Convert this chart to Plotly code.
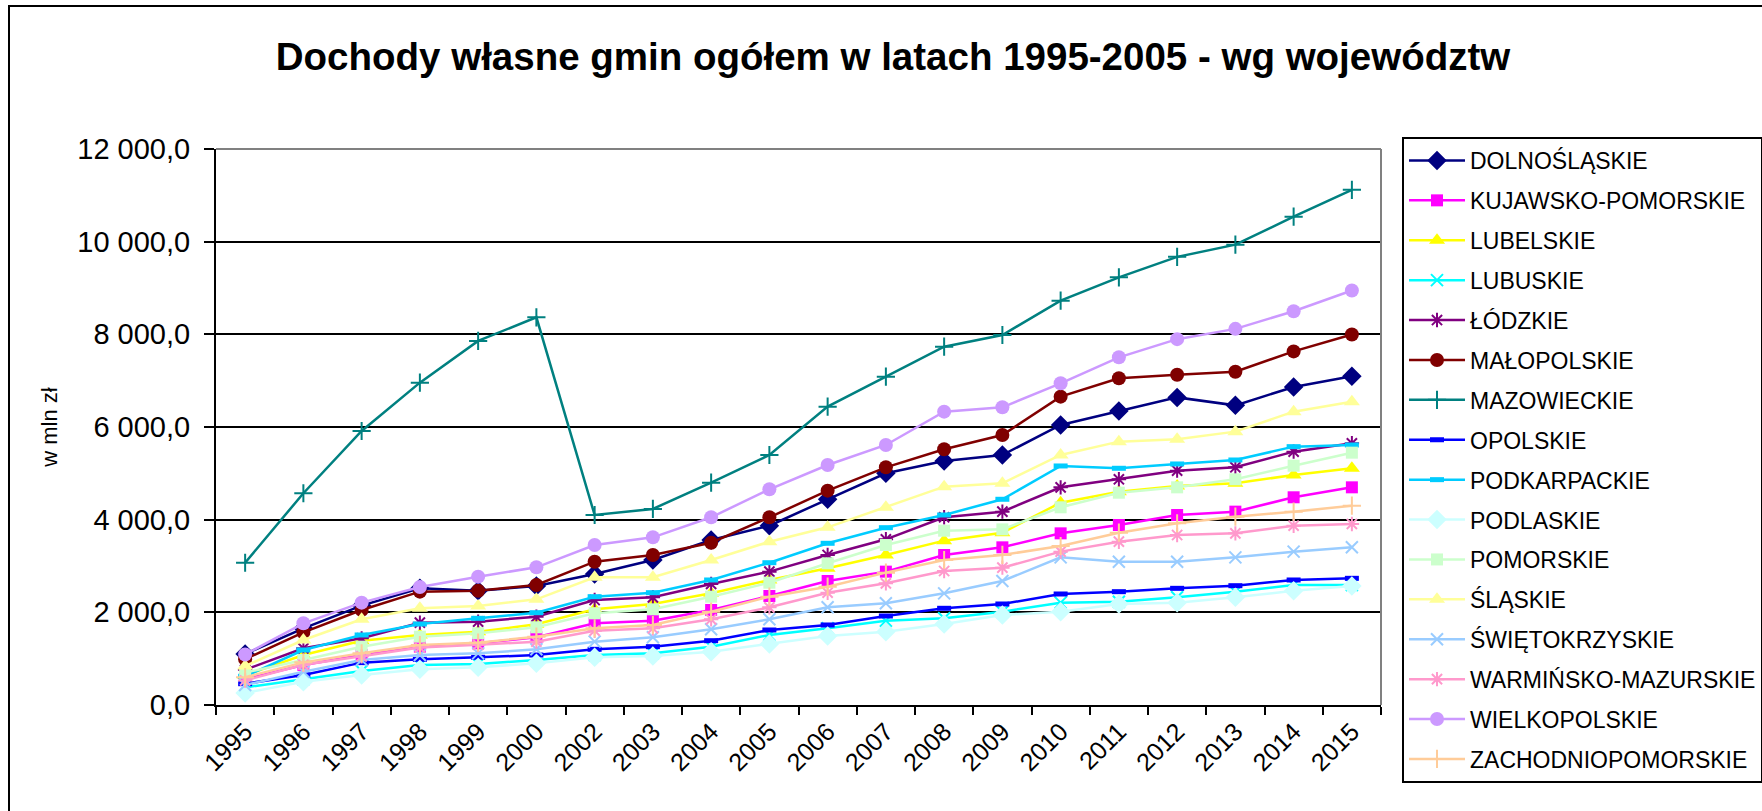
import plotly.graph_objects as go

W, H = 1762, 811
PLOT_L, PLOT_R, PLOT_T, PLOT_B = 216, 1381, 149, 705

years = ["1995", "1996", "1997", "1998", "1999", "2000", "2002", "2003", "2004", "2005",
         "2006", "2007", "2008", "2009", "2010", "2011", "2012", "2013", "2014", "2015"]

dolnoslaskie = [1100, 1655, 2144, 2518, 2467, 2568, 2827, 3130, 3561, 3870,
                4440, 5001, 5266, 5396, 6043, 6346, 6639, 6467, 6864, 7095]
kujawsko_pomorskie = [560, 863, 1079, 1259, 1331, 1461, 1763, 1820, 2050, 2353,
                      2676, 2878, 3238, 3403, 3705, 3885, 4101, 4173, 4483, 4698]
lubelskie = [640, 1079, 1388, 1511, 1583, 1741, 2065, 2180, 2410, 2698,
             2950, 3238, 3547, 3719, 4367, 4604, 4727, 4785, 4964, 5109]
lubuskie = [380, 554, 734, 863, 885, 971, 1079, 1115, 1259, 1511,
            1655, 1820, 1871, 2014, 2209, 2230, 2324, 2446, 2590, 2590]
lodzkie = [760, 1223, 1439, 1777, 1799, 1907, 2266, 2324, 2612, 2878,
           3238, 3576, 4051, 4173, 4698, 4871, 5058, 5130, 5468, 5648]
malopolskie = [990, 1569, 2050, 2446, 2467, 2590, 3093, 3238, 3503, 4051,
               4626, 5130, 5519, 5828, 6655, 7051, 7127, 7194, 7632, 7995]
mazowieckie = [3070, 4570, 5914, 6957, 7857, 8368, 4101, 4231, 4799, 5396,
               6439, 7087, 7734, 7986, 8727, 9231, 9672, 9935, 10540, 11118]
opolskie = [460, 647, 914, 986, 1029, 1079, 1202, 1259, 1388, 1619,
            1727, 1921, 2087, 2180, 2396, 2446, 2518, 2575, 2698, 2734]
podkarpackie = [620, 1187, 1511, 1748, 1871, 1992, 2338, 2424, 2698, 3071,
                3490, 3827, 4101, 4440, 5159, 5109, 5202, 5288, 5576, 5612]
podlaskie = [260, 503, 647, 770, 813, 900, 1029, 1058, 1151, 1317,
             1489, 1583, 1748, 1943, 2014, 2180, 2209, 2324, 2467, 2568]
pomorskie = [700, 971, 1259, 1475, 1547, 1677, 1979, 2065, 2338, 2640,
             3058, 3453, 3762, 3791, 4267, 4582, 4698, 4871, 5165, 5446]
slaskie = [840, 1403, 1850, 2087, 2137, 2281, 2756, 2756, 3130, 3525,
           3835, 4267, 4712, 4785, 5396, 5684, 5734, 5900, 6331, 6547]
swietokrzyskie = [430, 719, 971, 1079, 1115, 1202, 1367, 1461, 1634, 1849,
                  2108, 2195, 2410, 2676, 3187, 3093, 3093, 3187, 3310, 3403]
warminsko_mazurskie = [530, 870, 1050, 1240, 1300, 1367, 1604, 1655, 1849, 2108,
                       2424, 2626, 2892, 2964, 3310, 3525, 3669, 3705, 3870, 3907]
wielkopolskie = [1090, 1763, 2209, 2547, 2770, 2972, 3453, 3619, 4051, 4655,
                 5180, 5612, 6331, 6425, 6943, 7504, 7896, 8118, 8498, 8945]
zachodniopomorskie = [600, 920, 1115, 1295, 1345, 1475, 1655, 1727, 2014, 2338,
                      2554, 2857, 3130, 3238, 3432, 3719, 3921, 4065, 4173, 4302]

y_ticks = [0, 2000, 4000, 6000, 8000, 10000, 12000]
y_labels = ["0,0", "2 000,0", "4 000,0", "6 000,0", "8 000,0", "10 000,0", "12 000,0"]

# name, values, colour, symbol, size, open-symbol line width
series = [
    ("DOLNOŚLĄSKIE", dolnoslaskie, "#000080", "diamond", 15, 0),
    ("KUJAWSKO-POMORSKIE", kujawsko_pomorskie, "#FF00FF", "square", 12, 0),
    ("LUBELSKIE", lubelskie, "#FFFF00", "triangle-up", 14, 0),
    ("LUBUSKIE", lubuskie, "#00FFFF", "x-thin-open", 12, 2),
    ("ŁÓDZKIE", lodzkie, "#800080", "asterisk-open", 12, 2),
    ("MAŁOPOLSKIE", malopolskie, "#800000", "circle", 14, 0),
    ("MAZOWIECKIE", mazowieckie, "#008080", "cross-thin-open", 13, 2),
    ("OPOLSKIE", opolskie, "#0000FF", "line-ew-open", 10, 5),
    ("PODKARPACKIE", podkarpackie, "#00CCFF", "line-ew-open", 10, 5),
    ("PODLASKIE", podlaskie, "#CCFFFF", "diamond", 15, 0),
    ("POMORSKIE", pomorskie, "#CCFFCC", "square", 12, 0),
    ("ŚLĄSKIE", slaskie, "#FFFF99", "triangle-up", 14, 0),
    ("ŚWIĘTOKRZYSKIE", swietokrzyskie, "#99CCFF", "x-thin-open", 12, 2),
    ("WARMIŃSKO-MAZURSKIE", warminsko_mazurskie, "#FF99CC", "asterisk-open", 12, 2),
    ("WIELKOPOLSKIE", wielkopolskie, "#CC99FF", "circle", 14, 0),
    ("ZACHODNIOPOMORSKIE", zachodniopomorskie, "#FFCC99", "cross-thin-open", 13, 2),
]

FONT = "Liberation Sans, Arial, sans-serif"


def px_x(x):
    return (x - PLOT_L) / (PLOT_R - PLOT_L)


def px_y(y):
    return (PLOT_B - y) / (PLOT_B - PLOT_T)


fig = go.Figure()
for name, vals, color, symbol, size, lw in series:
    marker = dict(symbol=symbol, size=size, color=color)
    if lw:
        marker["line"] = dict(color=color, width=lw)
    else:
        marker["line"] = dict(width=0)
    fig.add_trace(go.Scatter(
        x=years, y=vals, name=name, mode="lines+markers",
        line=dict(color=color, width=2.5), marker=marker,
        legendgroup=name,
    ))

fig.update_layout(
    width=W, height=H,
    margin=dict(l=PLOT_L, r=W - PLOT_R, t=PLOT_T, b=H - PLOT_B, autoexpand=False),
    paper_bgcolor="white", plot_bgcolor="white",
    font=dict(family=FONT, color="black"),
    title=dict(
        text="<b>Dochody własne gmin ogółem w latach 1995-2005 - wg województw</b>",
        font=dict(size=38.5, family=FONT, color="black"),
        x=893 / W, xref="container", xanchor="center",
        y=1 - 57 / H, yref="container", yanchor="middle",
    ),
    showlegend=True,
    legend=dict(
        x=px_x(1402), y=px_y(137), xanchor="left", yanchor="top",
        bgcolor="white", bordercolor="black", borderwidth=2,
        font=dict(size=23, family=FONT, color="black"),
        tracegroupgap=7, itemwidth=56, maxheight=760,
    ),
    xaxis=dict(
        type="category", categoryorder="array", categoryarray=years,
        range=[-0.5, len(years) - 0.5],
        tickson="boundaries", ticks="outside", ticklen=8, tickwidth=2, tickcolor="black",
        showline=True, linecolor="black", linewidth=2,
        showgrid=False, tickangle=-45, automargin=False,
        tickfont=dict(size=25, family=FONT, color="black"),
    ),
    yaxis=dict(
        range=[0, 12000], tickvals=y_ticks, ticktext=y_labels,
        ticks="outside", ticklen=10, tickwidth=2, tickcolor="black",
        ticklabelstandoff=8, automargin=False,
        showline=True, linecolor="black", linewidth=2,
        showgrid=True, gridcolor="black", gridwidth=1.5, zeroline=False,
        tickfont=dict(size=29, family=FONT, color="black"),
        title=dict(text="w mln zł", font=dict(size=22, family=FONT, color="black"), standoff=14),
    ),
    shapes=[
        # plot area frame, top and right edges are grey
        dict(type="line", xref="paper", yref="paper", x0=0, x1=1, y0=1, y1=1,
             line=dict(color="#808080", width=2), layer="above"),
        dict(type="line", xref="paper", yref="paper", x0=1, x1=1, y0=0, y1=1,
             line=dict(color="#808080", width=2), layer="above"),
        # outer chart frame
        dict(type="rect", xref="paper", yref="paper",
             x0=px_x(9), x1=px_x(1900), y0=px_y(6), y1=px_y(950),
             line=dict(color="black", width=2), layer="below"),
    ],
)

fig.write_html("out.html", config={"displayModeBar": False},
               post_script="document.body.style.margin='0';")
